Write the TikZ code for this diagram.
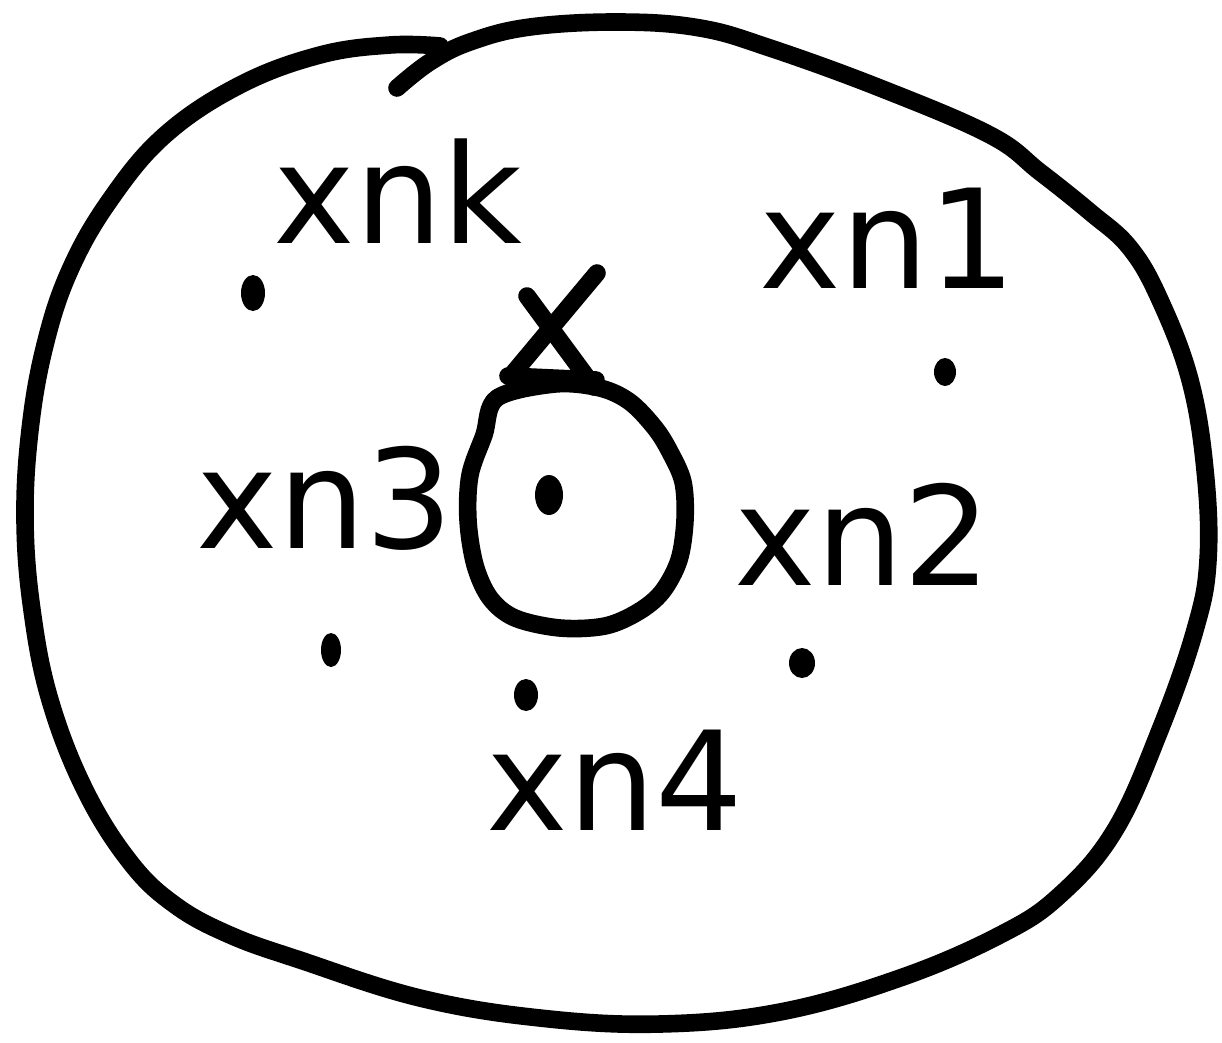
\documentclass[tikz,border=0pt]{standalone}
\usepackage{fontspec}
\setmainfont{DejaVu Sans}
\usetikzlibrary{shapes.geometric}
\begin{document}
\begin{tikzpicture}[x=0.025cm,y=-0.025cm,
  stroke/.style={line width=0.44cm,line cap=round,line join=round},
  lbl/.style={anchor=base,inner sep=0pt,font=\fontsize{98}{98}\selectfont},
  pt/.style={fill=black}]
\useasboundingbox (0,0) rectangle (1222,1042);
\fill[white] (0,0) rectangle (1222,1042);
% outer closed curve
\draw[stroke] plot[smooth,tension=0.65] coordinates {
 (397,88) (430,62) (470,42) (530,27) (620,22) (700,28) (770,48) (880,88)
 (990,135) (1040,172) (1090,212) (1130,248) (1160,300) (1190,380)
 (1205,470) (1208,560) (1195,630) (1160,730) (1115,830) (1060,895)
 (1000,935) (900,978) (780,1012) (660,1024) (540,1018) (420,998)
 (300,960) (230,935) (175,905) (130,862) (85,790) (50,700) (32,610)
 (25,520) (30,430) (45,345) (70,270) (110,200) (165,135) (240,85)
 (320,55) (390,45) (440,46)};
% inner loop
\draw[stroke] plot[smooth cycle,tension=0.55] coordinates {
 (555,384) (600,388) (630,402) (655,428) (670,452) (683,482) (685,520)
 (679,560) (662,592) (638,612) (605,626) (560,628) (515,618) (490,598)
 (475,565) (468,520) (470,475) (484,435) (497,398)};
% X on top of inner loop
\draw[stroke] (527,296) -- (594,387);
\draw[stroke] (597,273) -- (510,377);
\draw[stroke] (508,376) -- (596,380);
% points
\node[pt,ellipse,minimum width=0.7cm,minimum height=1cm,inner sep=0pt] (c) at (549,495) {};
\fill[pt] (253,293) ellipse (12 and 18);
\fill[pt] (945,372) ellipse (11 and 14);
\fill[pt] (331,650) ellipse (10 and 17);
\fill[pt] (802,663) ellipse (13 and 15);
\fill[pt] (526,695) ellipse (12 and 16);
% labels
\node[lbl] (lk) at (398,243) {xnk};
\node[lbl] (l1) at (888,288) {xn1};
\node[lbl] (l3) at (325,548) {xn3};
\node[lbl] (l2) at (863,585) {xn2};
\node[lbl] (l4) at (615,830) {xn4};
\end{tikzpicture}
\end{document}
